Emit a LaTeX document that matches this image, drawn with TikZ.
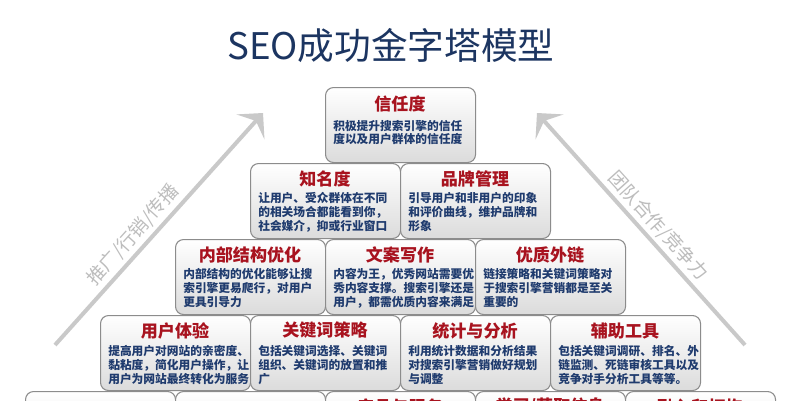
\documentclass[tikz,border=0pt]{standalone}
\usepackage{fontspec}
\setmainfont{Noto Sans CJK SC}
\usetikzlibrary{calc,arrows.meta}
\definecolor{titleblue}{HTML}{1C3561}
\definecolor{boxred}{HTML}{A8131F}
\definecolor{bodyblue}{HTML}{1F3B6E}
\definecolor{arrowgray}{HTML}{C9C9C9}
\definecolor{arrowtext}{HTML}{BDBDBD}
\definecolor{boxborder}{HTML}{8C8C8C}
\tikzset{
  pbox/.style={draw=boxborder, line width=0.8pt, rounded corners=6pt, top color=white, bottom color=gray!28,
    minimum width=112.5pt, minimum height=56.25pt, inner sep=0pt, anchor=north west},
  ptitle/.style={text=boxred, font=\bfseries\fontsize{12.8}{14}\selectfont, inner sep=0pt},
  pbody/.style={text=bodyblue, font=\bfseries\fontsize{8.8}{10}\selectfont, inner sep=0pt, anchor=west},
  arrowline/.style={draw=arrowgray, line width=3pt, -{Stealth[length=14pt,width=28pt,inset=6pt]}},
  arrowlabel/.style={text=arrowtext, font=\fontsize{14}{16}\selectfont, inner sep=0pt},
  maintitle/.style={text=titleblue, font=\fontsize{27.5}{30}\selectfont, inner sep=0pt},
}
% name, x, y, title, title offset, first line offset, line step, lines
\newcommand\pyrbox[8]{%
  \node[pbox] (#1) at (#2,#3) {};
  \node[ptitle] (#1-t) at ($(#1.north west)+(75,#5)$) {#4};
  \foreach \bodyline [count=\i] in {#8} {
    \node[pbody] (#1-l\i) at ($(#1.north west)+(8,#6+#7*\i-#7)$) {\bodyline};
  }
}
\begin{document}
\begin{tikzpicture}[x=0.75pt,y=-0.75pt]
\useasboundingbox (0,0) rectangle (806,400);
\clip (0,0) rectangle (806,400);
\fill[white] (0,0) rectangle (806,400);

\node[maintitle] (title) at (391,46) {SEO成功金字塔模型};

\coordinate (lstart) at (55,345);
\coordinate (ltip) at (263,113);
\coordinate (rstart) at (745,345);
\coordinate (rtip) at (537,113);
\draw[arrowline] (lstart) -- (ltip);
\draw[arrowline] (rstart) -- (rtip);
\node[arrowlabel, rotate=48] (llab) at (133,235) {推广/行销/传播};
\node[arrowlabel, rotate=-48] (rlab) at (658,226) {团队合作/竞争力};

\pyrbox{b1}{325}{87}{信任度}{17}{39}{13}{积极提升搜索引擎的信任,度以及用户群体的信任度}

\pyrbox{b2}{250}{163}{知名度}{15.5}{35}{14}{让用户、受众群体在不同,的相关场合都能看到你，,社会媒介，抑或行业窗口}
\pyrbox{b3}{400}{163}{品牌管理}{15.5}{35}{14}{引导用户和非用户的印象,和评价曲线，维护品牌和,形象}

\pyrbox{b4}{175}{239}{内部结构优化}{15.5}{35}{14}{内部结构的优化能够让搜,索引擎更易爬行，对用户,更具引导力}
\pyrbox{b5}{325}{239}{文案写作}{15.5}{35}{14}{内容为王，优秀网站需要优,秀内容支撑。搜索引擎还是,用户，都需优质内容来满足}
\pyrbox{b6}{475}{239}{优质外链}{15.5}{35}{14}{链接策略和关键词策略对,于搜索引擎营销都是至关,重要的}

\pyrbox{b7}{100}{315}{用户体验}{15.5}{36}{14}{提高用户对网站的亲密度、,黏粘度，简化用户操作，让,用户为网站最终转化为服务}
\pyrbox{b8}{250}{315}{关键词策略}{15.5}{36}{14}{包括关键词选择、关键词,组织、关键词的放置和推,广}
\pyrbox{b9}{400}{315}{统计与分析}{15.5}{36}{14}{利用统计数据和分析结果,对搜索引擎营销做好规划,与调整}
\pyrbox{b10}{550}{315}{辅助工具}{15.5}{36}{14}{包括关键词调研、排名、外,链监测、死链审核工具以及,竞争对手分析工具等等。}

\node[pbox] (b11) at (25,391) {};
\node[pbox] (b12) at (175,391) {};
\node[pbox] (b13) at (325,391) {};
\node[ptitle] (b13-t) at ($(b13.north west)+(75,16)$) {产品与服务};
\node[pbox] (b14) at (475,391) {};
\node[ptitle] (b14-t) at ($(b14.north west)+(75,16)$) {学习/获取信息};
\node[pbox] (b15) at (625,391) {};
\node[ptitle] (b15-t) at ($(b15.north west)+(75,16)$) {融入和拥抱};
\end{tikzpicture}
\end{document}
